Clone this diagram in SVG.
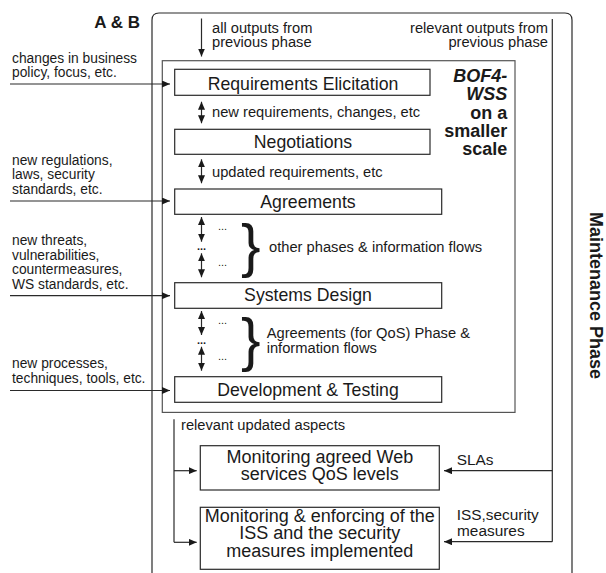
<svg xmlns="http://www.w3.org/2000/svg" width="606" height="573" viewBox="0 0 606 573">
<defs>
<style>
text{font-family:"Liberation Sans",Arial,sans-serif;fill:#1a1a1a}
.side{font-size:13.8px}
.mid{font-size:14.7px}
.box{font-size:17.7px}
.mon{font-size:18px}
.lbl{font-size:15.4px}
.bold{font-weight:bold;font-size:18px}
.dots{font-size:11px}
.brace{font-size:58.6px}
.ln{fill:none;stroke:#2a2a2a;stroke-width:1.2}
.bx{fill:#fff;stroke:#2a2a2a;stroke-width:1.2}
.inner{fill:none;stroke:#555;stroke-width:1.2}
</style>
<marker id="ah" viewBox="0 0 8 7" refX="8" refY="3.5" markerWidth="8" markerHeight="7" markerUnits="userSpaceOnUse" orient="auto-start-reverse">
<path d="M0,0 L8,3.5 L0,7 z" fill="#1a1a1a"/>
</marker>
</defs>
<rect width="606" height="573" fill="#fff"/>

<g id="frame">
<path class="ln" d="M152,573 V20 Q152,13 159,13 H565 Q572,13 572,20 V573"/>
<text x="140" y="28.3" style="font-weight:bold;font-size:17px" text-anchor="end">A &amp; B</text>
<text class="bold" transform="translate(590,295.5) rotate(90)" text-anchor="middle">Maintenance Phase</text>
</g>

<g id="bof4wss">
<rect class="inner" x="162.3" y="60.7" width="352.7" height="351.7"/>
<text class="bold" x="507.3" y="82.3" text-anchor="end" font-style="italic">BOF4-</text>
<text class="bold" x="507.3" y="100" text-anchor="end" font-style="italic">WSS</text>
<text class="bold" x="507.3" y="119" text-anchor="end">on a</text>
<text class="bold" x="507.3" y="137.3" text-anchor="end">smaller</text>
<text class="bold" x="507.3" y="155" text-anchor="end">scale</text>
</g>

<g id="requirements">
<rect class="bx" x="174.7" y="69.3" width="255.3" height="26"/>
<text class="box" x="303" y="90" text-anchor="middle">Requirements Elicitation</text>
</g>
<g id="negotiations">
<rect class="bx" x="174.7" y="129.3" width="255.3" height="25"/>
<text class="box" x="303" y="148.3" text-anchor="middle">Negotiations</text>
</g>
<g id="agreements">
<rect class="bx" x="174.7" y="189" width="267" height="25.3"/>
<text class="box" x="308" y="208" text-anchor="middle">Agreements</text>
</g>
<g id="systems-design">
<rect class="bx" x="174.7" y="282.7" width="267" height="25.6"/>
<text class="box" x="308" y="301" text-anchor="middle">Systems Design</text>
</g>
<g id="development">
<rect class="bx" x="174.7" y="376.7" width="267" height="25.6"/>
<text class="box" x="308" y="395.5" text-anchor="middle">Development &amp; Testing</text>
</g>
<g id="monitoring-qos">
<rect class="bx" x="200.3" y="445.7" width="239" height="44.3"/>
<text class="mon" x="319.8" y="463.3" text-anchor="middle">Monitoring agreed Web</text>
<text class="mon" x="319.8" y="480" text-anchor="middle">services QoS levels</text>
</g>
<g id="monitoring-iss">
<rect class="bx" x="200.3" y="507.3" width="239" height="62"/>
<text class="mon" x="319.8" y="521.7" text-anchor="middle">Monitoring &amp; enforcing of the</text>
<text class="mon" x="319.8" y="539.3" text-anchor="middle">ISS and the security</text>
<text class="mon" x="319.8" y="556.7" text-anchor="middle">measures implemented</text>
</g>

<g id="connectors">
<!-- top inputs -->
<line class="ln" x1="201.5" y1="18.5" x2="201.5" y2="56.5" marker-end="url(#ah)"/>
<line class="ln" x1="552.3" y1="19" x2="552.3" y2="541.7"/>
<!-- left inputs -->
<line class="ln" x1="10" y1="84" x2="170" y2="84" marker-end="url(#ah)"/>
<line class="ln" x1="10" y1="201" x2="170" y2="201" marker-end="url(#ah)"/>
<line class="ln" x1="10" y1="295.7" x2="170" y2="295.7" marker-end="url(#ah)"/>
<line class="ln" x1="10" y1="390.5" x2="170" y2="390.5" marker-end="url(#ah)"/>
<!-- double arrows -->
<line class="ln" x1="201.5" y1="101.7" x2="201.5" y2="123.3" marker-start="url(#ah)" marker-end="url(#ah)"/>
<line class="ln" x1="201.5" y1="159.3" x2="201.5" y2="183.3" marker-start="url(#ah)" marker-end="url(#ah)"/>
<line class="ln" x1="201.5" y1="217" x2="201.5" y2="241.7" marker-start="url(#ah)" marker-end="url(#ah)"/>
<line class="ln" x1="201.5" y1="253.3" x2="201.5" y2="277.3" marker-start="url(#ah)" marker-end="url(#ah)"/>
<line class="ln" x1="201.5" y1="311" x2="201.5" y2="335" marker-start="url(#ah)" marker-end="url(#ah)"/>
<line class="ln" x1="201.5" y1="346.7" x2="201.5" y2="370.7" marker-start="url(#ah)" marker-end="url(#ah)"/>
<!-- bottom left -->
<path class="ln" d="M174,419.3 V542.3"/>
<line class="ln" x1="174" y1="470.7" x2="196.7" y2="470.7" marker-end="url(#ah)"/>
<line class="ln" x1="174" y1="542.3" x2="196.7" y2="542.3" marker-end="url(#ah)"/>
<!-- bottom right -->
<line class="ln" x1="552.3" y1="470.7" x2="444" y2="470.7" marker-end="url(#ah)"/>
<line class="ln" x1="552.3" y1="541.7" x2="444" y2="541.7" marker-end="url(#ah)"/>
</g>

<g id="labels">
<text class="mid" x="212" y="33">all outputs from</text>
<text class="mid" x="212" y="47">previous phase</text>
<text class="mid" x="548" y="33" text-anchor="end">relevant outputs from</text>
<text class="mid" x="548" y="47" text-anchor="end">previous phase</text>

<text class="side" x="12" y="63.3">changes in business</text>
<text class="side" x="12" y="77.3">policy, focus, etc.</text>
<text class="side" x="12" y="165">new regulations,</text>
<text class="side" x="12" y="179.3">laws, security</text>
<text class="side" x="12" y="194">standards, etc.</text>
<text class="side" x="12" y="245">new threats,</text>
<text class="side" x="12" y="259.5">vulnerabilities,</text>
<text class="side" x="12" y="274">countermeasures,</text>
<text class="side" x="12" y="289">WS standards, etc.</text>
<text class="side" x="12" y="368.3">new processes,</text>
<text class="side" x="12" y="383.3">techniques, tools, etc.</text>

<text class="mid" x="212" y="116.7">new requirements, changes, etc</text>
<text class="mid" x="212" y="176.7">updated requirements, etc</text>

<text class="dots" x="218" y="230">...</text>
<text class="dots" x="197" y="249.5" style="font-weight:bold">...</text>
<text class="dots" x="218" y="266">...</text>
<text class="brace" x="241" y="265.7">}</text>
<text class="mid" x="269" y="251.7">other phases &amp; information flows</text>

<text class="dots" x="218" y="323.5">...</text>
<text class="dots" x="197" y="343.5" style="font-weight:bold">...</text>
<text class="dots" x="218" y="360">...</text>
<text class="brace" x="241" y="359.7">}</text>
<text class="mid" x="266.7" y="338.3">Agreements (for QoS) Phase &amp;</text>
<text class="mid" x="266.7" y="352.7">information flows</text>

<text class="mid" x="181" y="430">relevant updated aspects</text>
<text class="lbl" x="456.7" y="465">SLAs</text>
<text class="lbl" x="456.7" y="520">ISS,security</text>
<text class="lbl" x="457" y="535.7">measures</text>
</g>
</svg>
